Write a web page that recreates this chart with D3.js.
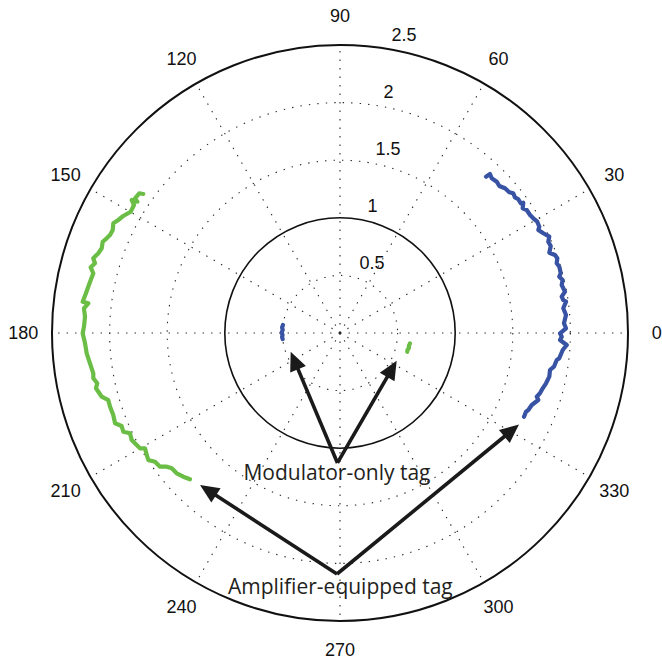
<!DOCTYPE html>
<html>
<head>
<meta charset="utf-8">
<script src="https://cdn.jsdelivr.net/npm/d3@7"></script>
<style>
  html, body { margin: 0; padding: 0; background: #ffffff; }
  svg { display: block; }
</style>
</head>
<body>
<svg id="chart" width="662" height="662"></svg>
<script>
// ---------- data ----------
const angleTicks = [0, 30, 60, 90, 120, 150, 180, 210, 240, 270, 300, 330];
const radialTicks = [0.5, 1, 1.5, 2, 2.5];
const solidRings = [1, 2.5];
const radialMax = 2.5;

// Amplifier-equipped tag, blue series (angle in degrees, radius)
const blueAmpTheta = [46.95, 46.67, 45.56, 43.99, 42.70, 41.25, 39.73, 38.88, 37.79, 36.86, 35.67, 35.41,
  34.31, 33.38, 31.84, 30.68, 29.43, 28.07, 27.45, 26.12, 24.71, 23.67, 22.43, 20.99, 19.94, 18.97,
  17.83, 16.82, 15.14, 14.40, 13.39, 12.22, 10.40, 9.30, 8.41, 7.89, 6.31, 4.55, 2.48, 1.19, -0.08,
  -0.96, -1.82, -3.03, -4.37, -6.58, -7.10, -8.95, -9.99, -11.79, -13.72, -15.26, -16.78, -17.94,
  -18.67, -20.59, -22.24, -22.93, -24.46];
const blueAmpR = [1.857, 1.897, 1.881, 1.891, 1.882, 1.905, 1.911, 1.932, 1.922, 1.935, 1.931, 1.952,
  1.920, 1.941, 1.942, 1.951, 1.966, 1.961, 1.940, 1.966, 2.000, 1.974, 1.979, 1.946, 1.985, 1.995,
  1.976, 1.989, 1.985, 1.965, 1.987, 1.969, 1.986, 1.950, 1.959, 1.981, 1.950, 1.968, 1.946, 1.962, 1.910,
  1.925, 1.911, 1.971, 1.939, 1.916, 1.896, 1.880, 1.851, 1.856, 1.841, 1.824, 1.813, 1.795,
  1.817, 1.778, 1.766, 1.753, 1.755];

// Amplifier-equipped tag, green series
const greenAmpTheta = [144.75, 145.16, 146.69, 147.07, 147.44, 148.15, 149.91, 151.63, 152.99, 154.18,
  155.62, 156.92, 157.91, 158.96, 160.43, 161.75, 163.15, 164.12, 165.24, 166.40, 168.00, 169.58,
  171.12, 173.06, 173.27, 174.49, 176.34, 178.59, 180.07, 182.31, 184.58, 186.91, 189.28, 190.40,
  191.71, 192.77, 194.97, 196.13, 197.77, 199.89, 201.87, 203.07, 204.49, 205.53, 207.19, 208.85,
  209.96, 210.59, 212.25, 213.52, 214.82, 216.60, 217.65, 218.80, 220.67, 222.52, 224.28];
const greenAmpR = [2.091, 2.123, 2.129, 2.096, 2.145, 2.105, 2.100, 2.138, 2.160, 2.186,
  2.166, 2.170, 2.186, 2.207, 2.195, 2.209, 2.238, 2.211, 2.238, 2.203, 2.212, 2.222,
  2.232, 2.250, 2.200, 2.233, 2.218, 2.223, 2.234, 2.215, 2.206, 2.186, 2.170, 2.177,
  2.152, 2.172, 2.141, 2.094, 2.096, 2.093, 2.104, 2.060, 2.067, 2.020, 2.033, 2.015,
  2.004, 1.966, 1.984, 1.996, 1.956, 1.946, 1.900, 1.874, 1.869, 1.846, 1.819];

// Modulator-only tag, blue series
const blueModTheta = [172, 174.5, 177, 179.5, 182, 184, 186];
const blueModR = [0.500, 0.505, 0.498, 0.506, 0.499, 0.504, 0.500];

// Modulator-only tag, green series
const greenModTheta = [-8.4, -10.5, -12.5, -14.2, -15.6];
const greenModR = [0.614, 0.608, 0.612, 0.604, 0.606];

// annotations (Cartesian data units, same units as radius)
const annoLabels = ["Modulator-only tag", "Amplifier-equipped tag"];
const annoTextX = [-0.026, 0.003];
const annoTextY = [-1.276, -2.262];
const annoApexX = [-0.022, -0.026];
const annoApexY = [-1.128, -2.092];
const annoTipX = [[-0.428, 0.492], [-1.215, 1.554]];
const annoTipY = [[-0.162, -0.240], [-1.319, -0.794]];

// ---------- layout ----------
const cx = 340, cy = 333, R = 288;
const svg = d3.select("#chart");
const rScale = d3.scaleLinear().domain([0, radialMax]).range([0, R]);
const xS = d3.scaleLinear().domain([-radialMax, radialMax]).range([cx - R, cx + R]);
const yS = d3.scaleLinear().domain([-radialMax, radialMax]).range([cy + R, cy - R]);
const toRad = d => d * Math.PI / 180;

const g = svg.append("g");
const gridColor = "#2a2a2a";

// dotted circles
g.selectAll("circle.grid").data(radialTicks.filter(v => !solidRings.includes(v)))
  .enter().append("circle")
  .attr("cx", cx).attr("cy", cy).attr("r", d => rScale(d))
  .attr("fill", "none").attr("stroke", gridColor).attr("stroke-width", 1.1)
  .attr("stroke-dasharray", "1.4,7.1");

// dotted spokes from centre
g.selectAll("line.spoke").data(angleTicks).enter().append("line")
  .attr("x1", cx).attr("y1", cy)
  .attr("x2", d => cx + rScale(radialMax) * Math.cos(toRad(d)))
  .attr("y2", d => cy - rScale(radialMax) * Math.sin(toRad(d)))
  .attr("stroke", gridColor).attr("stroke-width", 1.1)
  .attr("stroke-dasharray", "1.4,7.1");

// solid rings
g.selectAll("circle.solid").data(solidRings).enter().append("circle")
  .attr("cx", cx).attr("cy", cy).attr("r", d => rScale(d))
  .attr("fill", "none").attr("stroke", "#111")
  .attr("stroke-width", d => d === radialMax ? 2 : 1.6);

// angle labels
const labelFont = "'Liberation Sans', Arial, Helvetica, sans-serif";
g.selectAll("text.ang").data(angleTicks).enter().append("text")
  .attr("x", d => cx + rScale(radialMax * 1.1) * Math.cos(toRad(d)))
  .attr("y", d => cy - rScale(radialMax * 1.1) * Math.sin(toRad(d)))
  .attr("text-anchor", "middle").attr("dominant-baseline", "central")
  .attr("font-family", labelFont).attr("font-size", 18).attr("fill", "#111")
  .text(d => d);

// radial labels (at 82 degrees)
const labAng = toRad(82);
g.selectAll("text.rad").data(radialTicks).enter().append("text")
  .attr("x", d => cx + rScale(d + radialMax / 100) * Math.cos(labAng) + 11)
  .attr("y", d => cy - rScale(d + radialMax / 100) * Math.sin(labAng) - 4)
  .attr("text-anchor", "start")
  .attr("font-family", labelFont).attr("font-size", 18).attr("fill", "#111")
  .text(d => d);

// data lines
const line = d3.line()
  .x(d => cx + rScale(d[1]) * Math.cos(toRad(d[0])))
  .y(d => cy - rScale(d[1]) * Math.sin(toRad(d[0])));
const series = [
  { th: blueAmpTheta, r: blueAmpR, color: "#3853a4" },
  { th: greenAmpTheta, r: greenAmpR, color: "#6abd45" },
  { th: blueModTheta, r: blueModR, color: "#3853a4" },
  { th: greenModTheta, r: greenModR, color: "#6abd45" }
];
series.forEach(s => {
  g.append("path")
    .datum(s.th.map((t, i) => [t, s.r[i]]))
    .attr("d", line)
    .attr("fill", "none").attr("stroke", s.color)
    .attr("stroke-width", 4.2).attr("stroke-linejoin", "round").attr("stroke-linecap", "round");
});

// annotation arrows
const headLen = 19, headHalf = 8.5;
const annoG = svg.append("g");
annoLabels.forEach((lab, i) => {
  const ax = xS(annoApexX[i]), ay = yS(annoApexY[i]);
  annoTipX[i].forEach((tx0, j) => {
    const tx = xS(tx0), ty = yS(annoTipY[i][j]);
    const dx = tx - ax, dy = ty - ay, len = Math.hypot(dx, dy);
    const ux = dx / len, uy = dy / len;
    const bx = tx - ux * headLen, by = ty - uy * headLen;
    annoG.append("line")
      .attr("x1", ax).attr("y1", ay).attr("x2", bx + ux * 2).attr("y2", by + uy * 2)
      .attr("stroke", "#1a1a1a").attr("stroke-width", 3.6).attr("stroke-linecap", "butt");
    annoG.append("polygon")
      .attr("points", [[tx, ty], [bx - uy * headHalf, by + ux * headHalf], [bx + uy * headHalf, by - ux * headHalf]]
        .map(p => p.join(",")).join(" "))
      .attr("fill", "#1a1a1a");
  });
  annoG.append("text")
    .attr("x", xS(annoTextX[i])).attr("y", yS(annoTextY[i]))
    .attr("text-anchor", "middle")
    .attr("font-family", "'Open Sans', 'Noto Sans', sans-serif")
    .attr("font-size", 21).attr("fill", "#231f20")
    .text(lab);
});
</script>
</body>
</html>
